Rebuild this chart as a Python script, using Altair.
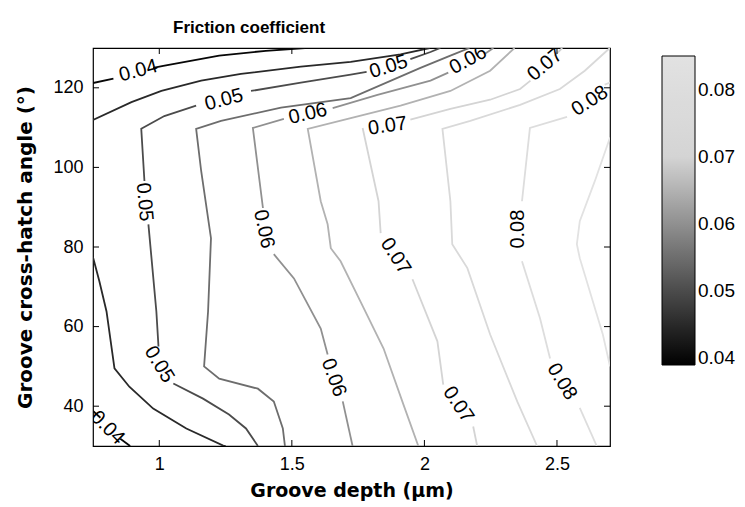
import altair as alt
import pandas as pd

# ---- data (depth in um, cross-hatch angle in deg) ----
x_ticks = [1, 1.5, 2, 2.5]
y_ticks = [40, 60, 80, 100, 120]
cbar_ticks = [0.04, 0.05, 0.06, 0.07, 0.08]

c040 = [[(0.75, 121.2), (0.827, 122.3)],
        [(0.977, 125.0), (1.015, 125.5), (1.226, 128.1), (1.402, 129.3), (1.55, 130.0)],
        [(0.75, 38.8), (0.778, 37.1)],
        [(0.853, 31.8), (0.89, 30.0)]]
c045 = [[(0.75, 111.9), (0.895, 116.4), (1.008, 119.2), (1.158, 121.8), (1.308, 123.5),
         (1.534, 125.3), (1.722, 126.5), (1.91, 128.4), (2.02, 130.0)],
        [(0.75, 77.4), (0.774, 71.4), (0.801, 63.8), (0.831, 49.5), (0.887, 44.9),
         (0.977, 39.4), (1.102, 34.4), (1.241, 30.1), (1.25, 30.0)]]
c050 = [[(1.372, 30.0), (1.327, 34.4), (1.263, 37.9), (1.165, 41.9), (1.053, 45.7)],
        [(0.997, 55.0), (0.989, 63.8), (0.959, 85.7)],
        [(0.944, 96.6), (0.932, 109.7), (1.019, 112.9), (1.139, 115.5)],
        [(1.346, 119.2), (1.534, 121.3), (1.722, 123.3), (1.782, 124.0)],
        [(1.947, 127.2), (2.023, 129.0), (2.06, 130.0)]]
c055 = [[(1.474, 30.0), (1.466, 34.4), (1.432, 41.2), (1.372, 44.4), (1.226, 46.9),
         (1.169, 50.0), (1.184, 63.8), (1.195, 82.2), (1.158, 99.1), (1.139, 109.7),
         (1.233, 111.7), (1.459, 115.0), (1.722, 117.4), (1.985, 125.0), (2.098, 128.1),
         (2.17, 130.0)]]
c060 = [[(1.729, 30.0), (1.692, 41.2)],
        [(1.635, 53.0), (1.609, 59.5), (1.508, 72.1), (1.432, 78.2)],
        [(1.391, 89.8), (1.353, 109.9), (1.470, 112.2)],
        [(1.654, 114.9), (1.823, 118.2), (2.023, 121.8), (2.09, 123.8)],
        [(2.23, 128.6), (2.26, 130.0)]]
c065 = [[(1.977, 30.0), (1.921, 40.4), (1.846, 54.5), (1.759, 66.3), (1.684, 76.4),
         (1.647, 79.7), (1.635, 85.7), (1.609, 91.5), (1.560, 109.7), (1.722, 112.4),
         (1.910, 115.5), (2.098, 119.2), (2.248, 124.3), (2.34, 130.0)]]
c070 = [[(2.199, 30.0), (2.184, 34.9)],
        [(2.071, 45.4), (2.049, 56.3), (1.955, 71.9)],
        [(1.835, 83.5), (1.827, 91.5), (1.767, 109.9)],
        [(1.947, 112.0), (2.098, 114.7), (2.248, 117.0), (2.361, 119.7), (2.40, 121.8)],
        [(2.49, 128.0), (2.52, 130.0)]]
c075 = [[(2.425, 30.0), (2.350, 41.2), (2.248, 58.0), (2.162, 74.7), (2.105, 80.7),
         (2.098, 91.5), (2.068, 109.7), (2.173, 111.7), (2.361, 115.7), (2.511, 119.7),
         (2.605, 124.3), (2.688, 129.3), (2.70, 130.0)]]
c080 = [[(2.65, 30.0), (2.586, 39.6)],
        [(2.474, 52.0), (2.436, 62.1), (2.368, 76.4)],
        [(2.368, 91.5), (2.398, 109.9), (2.538, 112.7)],
        [(2.68, 120.8), (2.70, 121.3)]]
c085 = [[(2.70, 107.5), (2.643, 96.6), (2.586, 86.5), (2.575, 80.7), (2.586, 77.2),
         (2.673, 58.0), (2.70, 50.0)]]

levels = [0.04, 0.045, 0.05, 0.055, 0.06, 0.065, 0.07, 0.075, 0.08, 0.085]
contours = [c040, c045, c050, c055, c060, c065, c070, c075, c080, c085]

lab_text = ["0.04", "0.04", "0.05", "0.05", "0.05", "0.05", "0.06", "0.06", "0.06", "0.06",
            "0.07", "0.07", "0.07", "0.07", "0.08", "0.08", "0.08"]
lab_depth = [0.921, 0.805, 1.0, 0.944, 1.244, 1.865, 1.658, 1.395, 1.560, 2.165,
             2.128, 1.891, 1.861, 2.455, 2.519, 2.353, 2.624]
lab_cross = [124.3, 34.6, 50.5, 91.3, 117.0, 125.3, 47.2, 84.5, 113.5, 127.0,
             40.4, 77.7, 110.4, 125.8, 46.2, 84.5, 116.7]
lab_rot = [345, 45, 58, 85, 345, 343, 70, 78, 347, 332,
           56, 57, 352, 320, 59, 270, 327]

# ---- tables ----
rows = []
for lev, segs in zip(levels, contours):
    for si, seg in enumerate(segs):
        for oi, (d, a) in enumerate(seg):
            rows.append({"level": lev, "seg": f"{lev}-{si}", "ord": oi, "depth": d, "cross": a})
df_lines = pd.DataFrame(rows)
df_lab = pd.DataFrame({"depth": lab_depth, "cross": lab_cross, "txt": lab_text, "rot": lab_rot})
df_xt = pd.DataFrame({"v": x_ticks})
df_yt = pd.DataFrame({"v": y_ticks})

FONT = "Liberation Sans"
TFONT = "DejaVu Sans"
xs = alt.Scale(domain=[0.75, 2.7], nice=False, zero=False)
ys = alt.Scale(domain=[30, 130], nice=False, zero=False)
cs = alt.Scale(domain=[0.039, 0.07, 0.085], range=["#000000", "#d4d4d4", "#e2e2e2"],
               interpolate="rgb")

W, H = 517, 398

lines = alt.Chart(df_lines).mark_line(clip=True, strokeWidth=1.8).encode(
    x=alt.X("depth:Q", scale=xs,
            axis=alt.Axis(title="Groove depth (µm)", values=x_ticks, labelExpr="'' + datum.value",
                          tickSize=0, domain=False, grid=False, labelPadding=9,
                          labelFontSize=18, labelFont=FONT, titleFont=TFONT,
                          titleFontSize=19, titleFontWeight="bold",
                          titlePadding=8, labelColor="black", titleColor="black")),
    y=alt.Y("cross:Q", scale=ys,
            axis=alt.Axis(title="Groove cross-hatch angle (°)", values=y_ticks, format="d",
                          tickSize=0, domain=False, grid=False, labelPadding=10,
                          labelFontSize=18, labelFont=FONT, titleFont=TFONT,
                          titleFontSize=20, titleFontWeight="bold",
                          titlePadding=17, labelColor="black", titleColor="black")),
    color=alt.Color("level:Q", scale=cs, title=None,
                    legend=alt.Legend(orient="none", legendX=569, legendY=8, direction="vertical",
                                      gradientLength=309, gradientThickness=33,
                                      gradientStrokeColor="black", gradientStrokeWidth=1,
                                      values=cbar_ticks, format=".2f", labelFontSize=19,
                                      labelFont=FONT, labelColor="black", labelOffset=3,
                                      labelOverlap=False, padding=0)),
    detail="seg:N",
    order="ord:Q",
)

labels = alt.Chart(df_lab).mark_text(font=FONT, fontSize=20, color="black", clip=True,
                                     align="center", baseline="middle").encode(
    x=alt.X("depth:Q", scale=xs),
    y=alt.Y("cross:Q", scale=ys),
    text="txt:N",
    angle=alt.Angle("rot:Q", scale=None),
)

xt_bot = alt.Chart(df_xt).mark_rule(color="black").encode(
    x=alt.X("v:Q", scale=xs), y=alt.value(H), y2=alt.value(H - 6))
xt_top = alt.Chart(df_xt).mark_rule(color="black").encode(
    x=alt.X("v:Q", scale=xs), y=alt.value(0), y2=alt.value(6))
yt_left = alt.Chart(df_yt).mark_rule(color="black").encode(
    y=alt.Y("v:Q", scale=ys), x=alt.value(0), x2=alt.value(6))
yt_right = alt.Chart(df_yt).mark_rule(color="black").encode(
    y=alt.Y("v:Q", scale=ys), x=alt.value(W), x2=alt.value(W - 6))

chart = alt.layer(lines, labels, xt_bot, xt_top, yt_left, yt_right).properties(
    width=W, height=H,
    title=alt.TitleParams("Friction coefficient", anchor="start", frame="group", dx=80,
                          fontSize=17, fontWeight="bold", font=FONT,
                          color="black", offset=11),
    autosize=alt.AutoSizeParams(type="none"),
    padding={"left": 85, "top": 40, "right": 127, "bottom": 55},
).configure(font=FONT).configure_view(stroke="black", strokeWidth=1.2)

chart.save("out.html", embed_options={"renderer": "svg", "actions": False})
